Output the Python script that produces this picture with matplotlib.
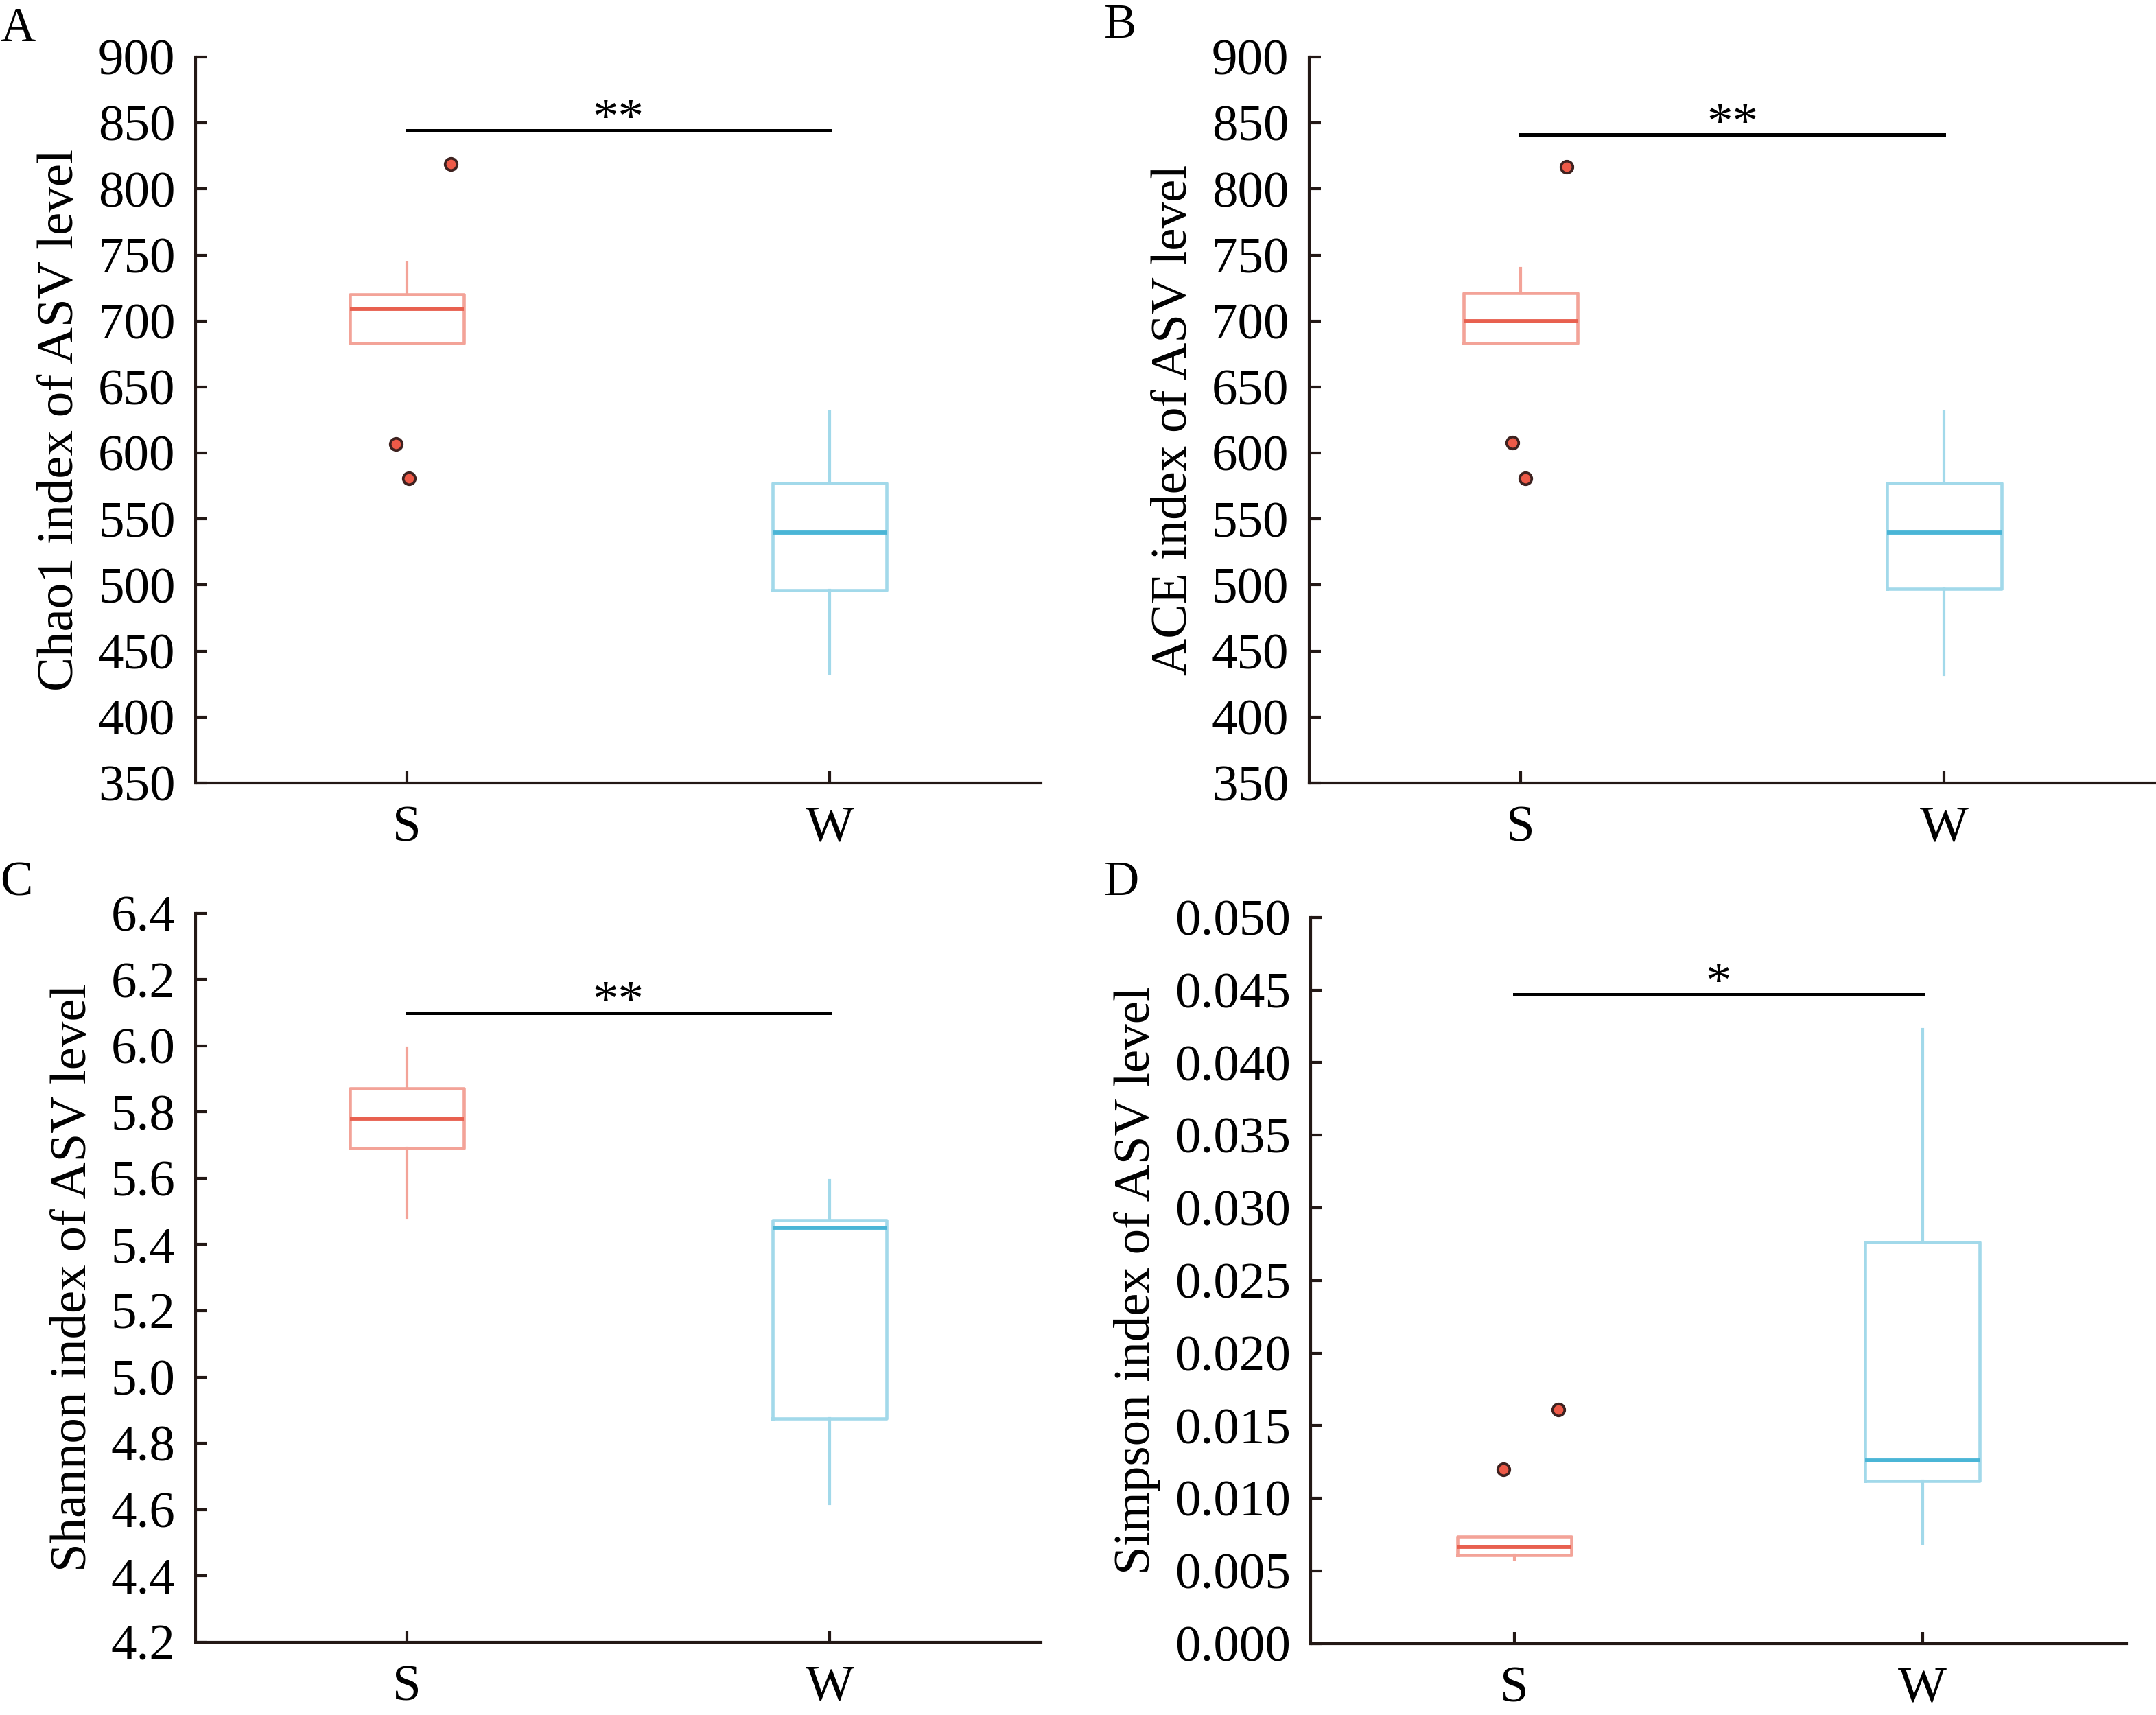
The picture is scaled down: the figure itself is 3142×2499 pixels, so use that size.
import numpy as np
import matplotlib
matplotlib.use("Agg")
import matplotlib.pyplot as plt
from matplotlib.ticker import FormatStrFormatter

plt.rcParams['font.family'] = ['Liberation Serif', 'DejaVu Serif']

groups = ['S', 'W']

# box stats: [S, W]
chao1_med = [709, 540]
chao1_q1 = [683, 496]
chao1_q3 = [720, 577]
chao1_lo = [683, 433]
chao1_hi = [744, 631]
chao1_out = [[819, 607, 581], []]

ace_med = [700, 540]
ace_q1 = [683, 497]
ace_q3 = [721, 577]
ace_lo = [683, 432]
ace_hi = [740, 631]
ace_out = [[817, 608, 581], []]

shannon_med = [5.780, 5.450]
shannon_q1 = [5.690, 4.875]
shannon_q3 = [5.872, 5.474]
shannon_lo = [5.482, 4.618]
shannon_hi = [5.993, 5.593]
shannon_out = [[], []]

simpson_med = [0.00665, 0.0126]
simpson_q1 = [0.0061, 0.0112]
simpson_q3 = [0.00736, 0.02765]
simpson_lo = [0.0058, 0.0069]
simpson_hi = [0.00736, 0.0423]
simpson_out = [[0.0161, 0.0120], []]

# horizontal jitter of the outlier dots (S group)
chao1_dx = [0.104, -0.026, 0.005]
ace_dx = [0.109, -0.019, 0.011]
simpson_dx = [0.108, -0.027]

edge_cols = ['#F3A398', '#A2D9EA']
med_cols = ['#E8604F', '#4AB5D6']
spine_col = '#231815'


def panel(ax, med, q1, q3, lo, hi, out, dx, ylim, yticks, fmt, ylabel,
          sig_y, stars, letter, letter_pos, width=0.27):
    stats = []
    for i in range(2):
        stats.append(dict(med=med[i], q1=q1[i], q3=q3[i], whislo=lo[i],
                          whishi=hi[i], fliers=[], label=groups[i]))
    bp = ax.bxp(stats, positions=[0, 1], widths=width, showcaps=False,
                showfliers=False, patch_artist=False)
    for i in range(2):
        bp['boxes'][i].set(color=edge_cols[i], linewidth=1.1)
        bp['medians'][i].set(color=med_cols[i], linewidth=1.4)
        for w in bp['whiskers'][2 * i:2 * i + 2]:
            w.set(color=edge_cols[i], linewidth=1.0)
    if out[0]:
        ax.plot(np.array(dx), out[0], 'o', ms=4.2, mfc='#EE5A48',
                mec='#3E2220', mew=0.9, zorder=3)

    ax.plot([0, 1], [sig_y, sig_y], color='black', lw=1.2)
    ax.annotate(stars, (0.5, sig_y), xytext=(0, -1), textcoords='offset points',
                ha='center', va='baseline', fontsize=18)

    ax.set_xlim(-0.5, 1.5)
    ax.set_ylim(*ylim)
    ax.set_yticks(yticks)
    ax.yaxis.set_major_formatter(FormatStrFormatter(fmt))
    ax.set_xticks([0, 1])
    ax.set_xticklabels(groups)
    ax.set_ylabel(ylabel, fontsize=18, labelpad=5)
    for s in ['top', 'right']:
        ax.spines[s].set_visible(False)
    for s in ['left', 'bottom']:
        ax.spines[s].set_color(spine_col)
        ax.spines[s].set_linewidth(1.0)
    ax.tick_params(direction='in', length=4, width=1.0, color=spine_col,
                   labelsize=18)
    ax.tick_params(axis='y', pad=7)
    ax.tick_params(axis='x', pad=8)
    fig.text(letter_pos[0], letter_pos[1], letter, fontsize=17,
             ha='left', va='top')


fig = plt.figure(figsize=(3142 / 300, 2499 / 300), dpi=300)

axA = fig.add_axes([0.0906, 0.5434, 0.3922, 0.4234])
axB = fig.add_axes([0.6071, 0.5434, 0.3929, 0.4234])
axC = fig.add_axes([0.0906, 0.0425, 0.3922, 0.4250])
axD = fig.add_axes([0.6078, 0.0417, 0.3785, 0.4234])

panel(axA, chao1_med, chao1_q1, chao1_q3, chao1_lo, chao1_hi, chao1_out,
      chao1_dx, (350, 900), np.arange(350, 901, 50), '%d',
      'Chao1 index of ASV level', 844.5, '**', 'A', (0.0, 0.996))
panel(axB, ace_med, ace_q1, ace_q3, ace_lo, ace_hi, ace_out,
      ace_dx, (350, 900), np.arange(350, 901, 50), '%d',
      'ACE index of ASV level', 841, '**', 'B', (0.512, 0.998))
panel(axC, shannon_med, shannon_q1, shannon_q3, shannon_lo, shannon_hi,
      shannon_out, [], (4.2, 6.4), np.arange(4.2, 6.41, 0.2), '%.1f',
      'Shannon index of ASV level', 6.1, '**', 'C', (0.0, 0.498))
panel(axD, simpson_med, simpson_q1, simpson_q3, simpson_lo, simpson_hi,
      simpson_out, simpson_dx, (0, 0.05), np.arange(0, 0.0501, 0.005), '%.3f',
      'Simpson index of ASV level', 0.0447, '*', 'D', (0.512, 0.498),
      width=0.28)

fig.savefig('out.png', dpi=300)
